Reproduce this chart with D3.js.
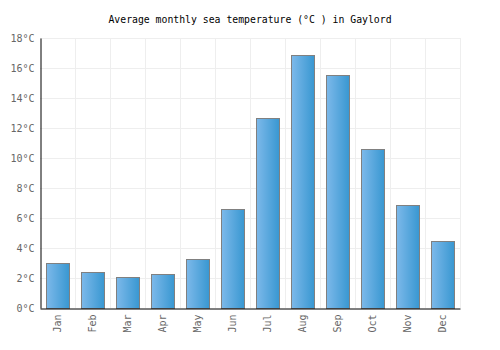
<!DOCTYPE html>
<html>
<head>
<meta charset="utf-8">
<script src="https://cdn.jsdelivr.net/npm/d3@7"></script>
<style>
  body { margin: 0; background: #fff; }
  text { font-family: "DejaVu Sans Mono", monospace; }
</style>
</head>
<body>
<svg id="chart" width="500" height="350"></svg>
<script>
const months = ["Jan", "Feb", "Mar", "Apr", "May", "Jun", "Jul", "Aug", "Sep", "Oct", "Nov", "Dec"];
const temps = [3.0, 2.4, 2.1, 2.3, 3.3, 6.6, 12.7, 16.9, 15.5, 10.6, 6.9, 4.5];
const yTicks = [0, 2, 4, 6, 8, 10, 12, 14, 16, 18];

const width = 500, height = 350;
const margin = { top: 38, right: 40, bottom: 42, left: 40 };

const svg = d3.select("#chart");

// gradient for the bars, lighter on the left
const grad = svg.append("defs").append("linearGradient")
    .attr("id", "barGrad")
    .attr("x1", "0%").attr("x2", "100%");
grad.append("stop").attr("offset", "0%").attr("stop-color", "#7db9ea");
grad.append("stop").attr("offset", "100%").attr("stop-color", "#3897d1");

const x = d3.scaleBand()
    .domain(months)
    .range([margin.left, width - margin.right])
    .paddingInner(0.34)
    .paddingOuter(0.17);

const xGrid = d3.scaleLinear()
    .domain([0, months.length])
    .range([margin.left, width - margin.right]);

const y = d3.scaleLinear()
    .domain([0, 18])
    .range([height - margin.bottom, margin.top]);

// grid
svg.append("g")
    .selectAll("line.h")
    .data(yTicks.slice(1))
    .enter()
    .append("line")
    .attr("x1", margin.left)
    .attr("x2", width - margin.right)
    .attr("y1", d => y(d) + 0.5)
    .attr("y2", d => y(d) + 0.5)
    .attr("stroke", "#eeeeee");

svg.append("g")
    .selectAll("line.v")
    .data(d3.range(1, months.length + 1))
    .enter()
    .append("line")
    .attr("x1", d => Math.round(xGrid(d)) + 0.5)
    .attr("x2", d => Math.round(xGrid(d)) + 0.5)
    .attr("y1", margin.top)
    .attr("y2", height - margin.bottom)
    .attr("stroke", "#eeeeee");

// bars
svg.append("g")
    .selectAll("rect")
    .data(temps)
    .enter()
    .append("rect")
    .attr("x", (d, i) => Math.round(x(months[i])) + 0.5)
    .attr("y", d => Math.round(y(d)) + 0.5)
    .attr("width", Math.round(x.bandwidth()))
    .attr("height", d => Math.round(y(0)) - Math.round(y(d)))
    .attr("fill", "url(#barGrad)")
    .attr("stroke", "#808080")
    .attr("stroke-width", 1);

// y axis
const yAxis = d3.axisLeft(y)
    .tickValues(yTicks)
    .tickSize(0)
    .tickPadding(6)
    .tickFormat(d => d + "°C");

svg.append("g")
    .attr("transform", `translate(${margin.left + 0.5},0)`)
    .call(yAxis)
    .call(g => g.select(".domain").attr("stroke", "#000"))
    .call(g => g.selectAll("text").attr("fill", "#666").attr("font-size", 10)
        .attr("font-family", "DejaVu Sans Mono"));

// x axis
const xAxis = d3.axisBottom(x).tickSize(0).tickPadding(0);

svg.append("g")
    .attr("transform", `translate(0,${height - margin.bottom + 0.5})`)
    .call(xAxis)
    .call(g => g.select(".domain").attr("stroke", "#000"))
    .call(g => g.selectAll("text")
        .attr("fill", "#666")
        .attr("font-size", 10)
        .attr("font-family", "DejaVu Sans Mono")
        .attr("text-anchor", "end")
        .attr("dy", "0.35em")
        .attr("transform", "translate(0,6) rotate(-90)")
        .attr("x", 0)
        .attr("y", 0));

// title
svg.append("text")
    .attr("x", width / 2)
    .attr("y", 23)
    .attr("text-anchor", "middle")
    .attr("font-size", 9.8)
    .attr("fill", "#000")
    .text("Average monthly sea temperature (°C ) in Gaylord");
</script>
</body>
</html>
